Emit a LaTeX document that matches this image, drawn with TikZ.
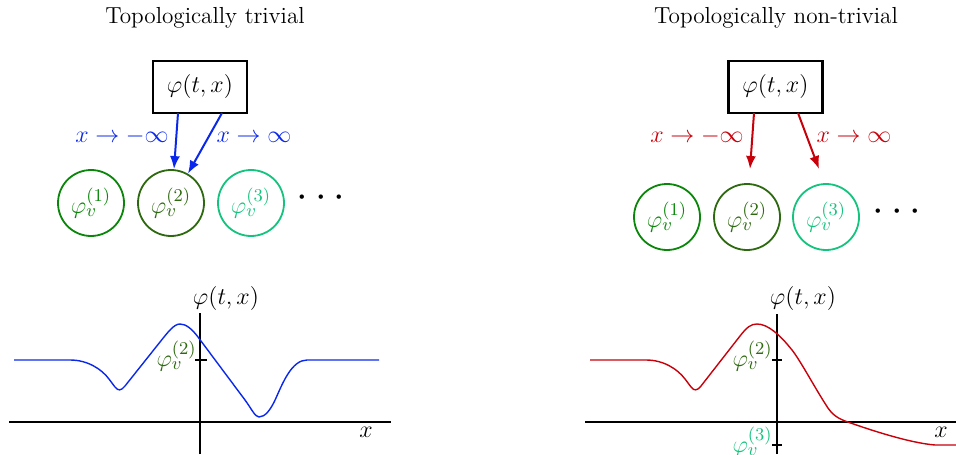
\documentclass[tikz,border=0pt]{standalone}
\usetikzlibrary{arrows.meta}
\definecolor{gA}{RGB}{10,135,10}
\definecolor{gB}{RGB}{45,105,15}
\definecolor{gC}{RGB}{20,195,125}
\definecolor{bl}{RGB}{10,40,235}
\definecolor{rd}{RGB}{200,0,10}
\begin{document}
\begin{tikzpicture}[x=0.5pt,y=-0.5pt,
  every node/.style={font=\fontsize{12.5}{15}\selectfont},
  title/.style={font=\fontsize{11.6}{14}\selectfont},
  dots/.style={font=\fontsize{20}{24}\selectfont},
  tbox/.style={draw,line width=1.2pt,minimum width=47pt,minimum height=26pt,inner sep=0pt},
  vac/.style={draw,circle,line width=0.9pt,minimum size=33pt,inner sep=0pt},
  arr/.style={line width=1pt,-{Latex[length=6.5pt,width=5pt]}},
  ax/.style={line width=0.7pt},
  curve/.style={line width=0.7pt,line join=round},
  tk/.style={line width=0.7pt}]
\useasboundingbox (0,0) rectangle (956,454);
% titles
\node[title] (t1) at (205,18) {Topologically trivial};
\node[title] (t2) at (776,18) {Topologically non-trivial};
% ---------- left diagram
\node[tbox] (b1) at (200,87) {$\varphi(t,x)$};
\node[vac,draw=gA,text=gA] (l1) at (91,203) {$\varphi_v^{(1)}$};
\node[vac,draw=gB,text=gB] (l2) at (171,203) {$\varphi_v^{(2)}$};
\node[vac,draw=gC,text=gC] (l3) at (251,203) {$\varphi_v^{(3)}$};
\node[dots] (ld) at (321,198) {$\cdots$};
\coordinate (b1a) at (178,113);
\coordinate (b1b) at (222,113);
\draw[arr,bl] (b1a) -- (l2.north -| 174,0);
\draw[arr,bl] (b1b) -- (l2.60);
\node[text=bl] (ll1) at (122,137) {$x\to-\infty$};
\node[text=bl] (ll2) at (254,137) {$x\to\infty$};
% ---------- right diagram
\node[tbox] (b2) at (775.5,87) {$\varphi(t,x)$};
\node[vac,draw=gA,text=gA] (r1) at (667,217) {$\varphi_v^{(1)}$};
\node[vac,draw=gB,text=gB] (r2) at (747,217) {$\varphi_v^{(2)}$};
\node[vac,draw=gC,text=gC] (r3) at (826,217) {$\varphi_v^{(3)}$};
\node[dots] (rd) at (897,212) {$\cdots$};
\coordinate (b2a) at (754,113);
\coordinate (b2b) at (798,113);
\coordinate (r2e) at (750,169);
\coordinate (r3e) at (819,169);
\draw[arr,rd] (b2a) -- (r2e);
\draw[arr,rd] (b2b) -- (r3e);
\node[text=rd] (rl1) at (697,137) {$x\to-\infty$};
\node[text=rd] (rl2) at (854,137) {$x\to\infty$};
% ---------- left plot
\coordinate (lxa) at (9,422); \coordinate (lxb) at (391,422);
\coordinate (lya) at (200,454); \coordinate (lyb) at (200,313);
\draw[ax] (lxa) -- (lxb);
\draw[ax] (lya) -- (lyb);
\coordinate (lt1) at (195,360); \coordinate (lt2) at (207,360);
\draw[tk] (lt1) -- (lt2);
\node (lyl) at (226,298) {$\varphi(t,x)$};
\node (lxl) at (366,432) {$x$};
\node[text=gB,anchor=east,inner sep=0pt] (lv2) at (197,356) {$\varphi_v^{(2)}$};
\draw[curve,bl] (14,360) -- (70,360) .. controls (88,360) and (101.8,369.4) .. (109,379) -- (115,387) .. controls (118,391) and (121,391) .. (125,386) -- (160,342) .. controls (168,332) and (174,324) .. (180,324) .. controls (186,324) and (192,329) .. (198,337) -- (245,400) .. controls (251,408) and (255,417) .. (259,417) .. controls (265,417) and (270.7,410) .. (276,398) .. controls (283,382.25) and (292,360) .. (307,360) -- (379,360);
% ---------- right plot
\coordinate (rxa) at (585,422); \coordinate (rxb) at (956,422);
\coordinate (rya) at (777,454); \coordinate (ryb) at (777,314);
\draw[ax] (rxa) -- (rxb);
\draw[ax] (rya) -- (ryb);
\coordinate (rt1) at (772,360); \coordinate (rt2) at (782,360);
\draw[tk] (rt1) -- (rt2);
\coordinate (rt3) at (772,445); \coordinate (rt4) at (782,445);
\draw[tk] (rt3) -- (rt4);
\node (ryl) at (803,298) {$\varphi(t,x)$};
\node (rxl) at (941,432) {$x$};
\node[text=gB,anchor=east,inner sep=0pt] (rv2) at (773,356) {$\varphi_v^{(2)}$};
\node[text=gC,anchor=east,inner sep=0pt] (rv3) at (773,442) {$\varphi_v^{(3)}$};
\draw[curve,rd] (590,360) -- (646,360) .. controls (664,360) and (677.8,369.4) .. (685,379) -- (691,387) .. controls (694,391) and (697,391) .. (701,386) -- (740,336) .. controls (747,327) and (751,324) .. (757,324) .. controls (768,324) and (780,335) .. (792,350) .. controls (800,360) and (815,388) .. (826,405) .. controls (831,413) and (835,417) .. (845,421) .. controls (870,430) and (910,443) .. (935,445) -- (956,445);
\end{tikzpicture}
\end{document}
